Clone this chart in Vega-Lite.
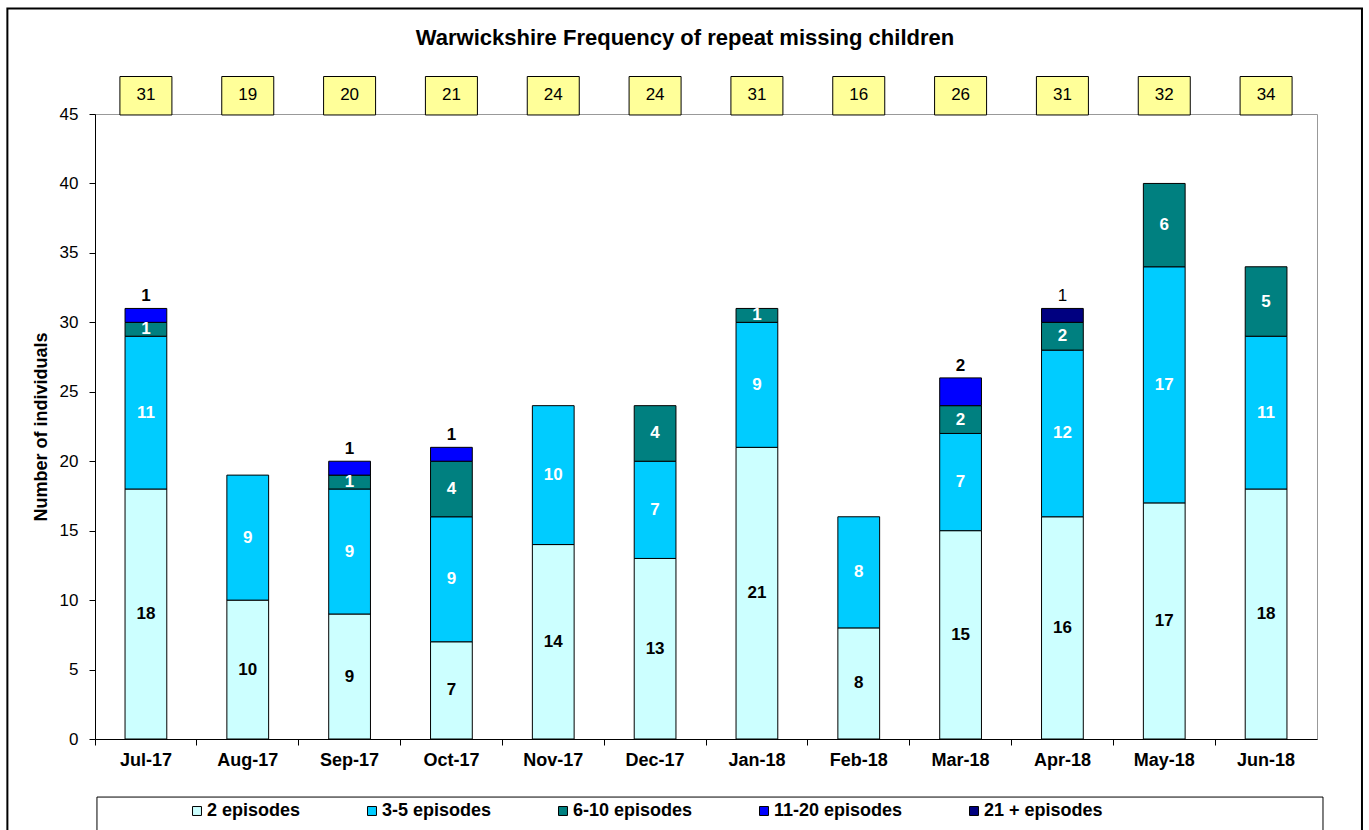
{
  "$schema": "https://vega.github.io/schema/vega-lite/v6.json",
  "width": 1222,
  "height": 625,
  "autosize": {"type": "none"},
  "padding": {"left": 95, "top": 114, "right": 52, "bottom": 91},
  "background": "white",
  "title": {"text": "Warwickshire Frequency of repeat missing children", "font": "Liberation Sans", "fontSize": 22, "fontWeight": "bold", "anchor": "middle", "dx": -21, "offset": -43, "color": "black"},
  "config": {"view": {"stroke": "#999999", "strokeWidth": 1}, "font": "Liberation Sans"},
  "resolve": {"scale": {"x": "independent", "y": "independent"}, "axis": {"x": "independent", "y": "independent"}},
  "datasets": {
    "bars": [
      {"month": "Jul-17", "cat": "2 episodes", "n": 18},
      {"month": "Jul-17", "cat": "3-5 episodes", "n": 11},
      {"month": "Jul-17", "cat": "6-10 episodes", "n": 1},
      {"month": "Jul-17", "cat": "11-20 episodes", "n": 1},
      {"month": "Aug-17", "cat": "2 episodes", "n": 10},
      {"month": "Aug-17", "cat": "3-5 episodes", "n": 9},
      {"month": "Sep-17", "cat": "2 episodes", "n": 9},
      {"month": "Sep-17", "cat": "3-5 episodes", "n": 9},
      {"month": "Sep-17", "cat": "6-10 episodes", "n": 1},
      {"month": "Sep-17", "cat": "11-20 episodes", "n": 1},
      {"month": "Oct-17", "cat": "2 episodes", "n": 7},
      {"month": "Oct-17", "cat": "3-5 episodes", "n": 9},
      {"month": "Oct-17", "cat": "6-10 episodes", "n": 4},
      {"month": "Oct-17", "cat": "11-20 episodes", "n": 1},
      {"month": "Nov-17", "cat": "2 episodes", "n": 14},
      {"month": "Nov-17", "cat": "3-5 episodes", "n": 10},
      {"month": "Dec-17", "cat": "2 episodes", "n": 13},
      {"month": "Dec-17", "cat": "3-5 episodes", "n": 7},
      {"month": "Dec-17", "cat": "6-10 episodes", "n": 4},
      {"month": "Jan-18", "cat": "2 episodes", "n": 21},
      {"month": "Jan-18", "cat": "3-5 episodes", "n": 9},
      {"month": "Jan-18", "cat": "6-10 episodes", "n": 1},
      {"month": "Feb-18", "cat": "2 episodes", "n": 8},
      {"month": "Feb-18", "cat": "3-5 episodes", "n": 8},
      {"month": "Mar-18", "cat": "2 episodes", "n": 15},
      {"month": "Mar-18", "cat": "3-5 episodes", "n": 7},
      {"month": "Mar-18", "cat": "6-10 episodes", "n": 2},
      {"month": "Mar-18", "cat": "11-20 episodes", "n": 2},
      {"month": "Apr-18", "cat": "2 episodes", "n": 16},
      {"month": "Apr-18", "cat": "3-5 episodes", "n": 12},
      {"month": "Apr-18", "cat": "6-10 episodes", "n": 2},
      {"month": "Apr-18", "cat": "21 + episodes", "n": 1},
      {"month": "May-18", "cat": "2 episodes", "n": 17},
      {"month": "May-18", "cat": "3-5 episodes", "n": 17},
      {"month": "May-18", "cat": "6-10 episodes", "n": 6},
      {"month": "Jun-18", "cat": "2 episodes", "n": 18},
      {"month": "Jun-18", "cat": "3-5 episodes", "n": 11},
      {"month": "Jun-18", "cat": "6-10 episodes", "n": 5}
    ],
    "totals": [
      {"month": "Jul-17", "total": 31},
      {"month": "Aug-17", "total": 19},
      {"month": "Sep-17", "total": 20},
      {"month": "Oct-17", "total": 21},
      {"month": "Nov-17", "total": 24},
      {"month": "Dec-17", "total": 24},
      {"month": "Jan-18", "total": 31},
      {"month": "Feb-18", "total": 16},
      {"month": "Mar-18", "total": 26},
      {"month": "Apr-18", "total": 31},
      {"month": "May-18", "total": 32},
      {"month": "Jun-18", "total": 34}
    ],
    "frame": [{"part": "frame"}]
  },
  "layer": [
    {
      "data": {"name": "frame"},
      "layer": [
        {
          "mark": {"type": "rect", "fill": null, "fillOpacity": 0, "stroke": "black", "strokeWidth": 2},
          "encoding": {
            "x": {"datum": -0.0717, "type": "quantitative", "scale": {"domain": [0, 1], "nice": false, "zero": false}, "axis": null},
            "x2": {"datum": 1.0368},
            "y": {"datum": 52.6, "type": "quantitative", "scale": {"domain": [0, 45], "nice": false}, "axis": null},
            "y2": {"datum": -8}
          }
        },
        {
          "mark": {"type": "rect", "fill": "white", "stroke": "black", "strokeWidth": 1},
          "encoding": {
            "x": {"datum": 0.0016, "type": "quantitative"},
            "x2": {"datum": 1.0049},
            "y": {"datum": -4.18, "type": "quantitative"},
            "y2": {"datum": -8}
          }
        }
      ]
    },
    {
      "layer": [
        {
          "mark": {"type": "rule", "color": "#999999", "strokeWidth": 1},
          "encoding": {"y": {"datum": 45, "type": "quantitative", "scale": {"domain": [0, 45], "nice": false}}}
        },
        {
          "data": {"name": "bars"},
          "transform": [
            {"calculate": "indexof(['2 episodes','3-5 episodes','6-10 episodes','11-20 episodes','21 + episodes'], datum.cat)", "as": "ord"},
            {"stack": "n", "groupby": ["month"], "sort": [{"field": "ord", "order": "ascending"}], "as": ["y0", "y1"]},
            {"calculate": "(datum.y0 + datum.y1) / 2", "as": "mid"}
          ],
          "layer": [
            {
              "mark": {"type": "bar", "stroke": "black", "strokeWidth": 1},
              "encoding": {
                "x": {
                  "field": "month", "type": "nominal", "sort": null,
                  "scale": {"paddingInner": 0.59, "paddingOuter": 0.295},
                  "axis": {"orient": "bottom", "title": null, "labelFont": "Liberation Sans", "labelFontSize": 18, "labelFontWeight": "bold", "labelColor": "black", "labelAngle": 0, "labelPadding": 6, "bandPosition": -0.7195, "tickColor": "black", "tickSize": 6, "domainColor": "black"}
                },
                "y": {
                  "field": "y0", "type": "quantitative",
                  "scale": {"domain": [0, 45], "nice": false},
                  "axis": {"orient": "left", "title": "Number of individuals", "titleFont": "Liberation Sans", "titleFontSize": 18, "titleFontWeight": "bold", "titleColor": "black", "titlePadding": 9, "values": [0, 5, 10, 15, 20, 25, 30, 35, 40, 45], "labelFont": "Liberation Sans", "labelFontSize": 17, "labelColor": "black", "labelPadding": 11, "tickColor": "black", "tickSize": 6, "domainColor": "black", "grid": false}
                },
                "y2": {"field": "y1"},
                "color": {
                  "field": "cat", "type": "nominal",
                  "scale": {"domain": ["2 episodes", "3-5 episodes", "6-10 episodes", "11-20 episodes", "21 + episodes"], "range": ["#CCFFFF", "#00CCFF", "#008080", "#0000FF", "#000080"]},
                  "legend": {"title": null, "orient": "none", "legendX": 93, "legendY": 688, "direction": "horizontal", "symbolType": "square", "symbolSize": 80, "symbolStrokeColor": "black", "symbolStrokeWidth": 1, "labelFont": "Liberation Sans", "labelFontSize": 18, "labelFontWeight": "bold", "labelColor": "black", "labelOffset": 1, "columnPadding": 62, "padding": 0}
                }
              }
            },
            {
              "transform": [{"filter": "datum.ord <= 2"}],
              "mark": {"type": "text", "font": "Liberation Sans", "fontSize": 17, "fontWeight": "bold", "baseline": "middle"},
              "encoding": {
                "x": {"field": "month", "type": "nominal", "sort": null},
                "y": {"field": "mid", "type": "quantitative"},
                "text": {"field": "n", "type": "quantitative"},
                "color": {"condition": {"test": "datum.ord == 0", "value": "black"}, "value": "white"}
              }
            },
            {
              "transform": [{"filter": "datum.ord == 3"}],
              "mark": {"type": "text", "font": "Liberation Sans", "fontSize": 17, "fontWeight": "bold", "baseline": "bottom", "dy": -3, "color": "black"},
              "encoding": {
                "x": {"field": "month", "type": "nominal", "sort": null},
                "y": {"field": "y1", "type": "quantitative"},
                "text": {"field": "n", "type": "quantitative"}
              }
            },
            {
              "transform": [{"filter": "datum.ord == 4"}],
              "mark": {"type": "text", "font": "Liberation Sans", "fontSize": 17, "fontWeight": "normal", "baseline": "bottom", "dy": -3, "color": "black"},
              "encoding": {
                "x": {"field": "month", "type": "nominal", "sort": null},
                "y": {"field": "y1", "type": "quantitative"},
                "text": {"field": "n", "type": "quantitative"}
              }
            }
          ]
        },
        {
          "data": {"name": "totals"},
          "layer": [
            {
              "mark": {"type": "bar", "width": 52, "fill": "#FFFF99", "stroke": "black", "strokeWidth": 1},
              "encoding": {
                "x": {"field": "month", "type": "nominal", "sort": null},
                "y": {"datum": 44.93, "type": "quantitative"},
                "y2": {"datum": 47.7}
              }
            },
            {
              "mark": {"type": "text", "font": "Liberation Sans", "fontSize": 17, "baseline": "middle", "color": "black"},
              "encoding": {
                "x": {"field": "month", "type": "nominal", "sort": null},
                "y": {"datum": 46.35, "type": "quantitative"},
                "text": {"field": "total", "type": "quantitative"}
              }
            }
          ]
        }
      ]
    }
  ]
}
